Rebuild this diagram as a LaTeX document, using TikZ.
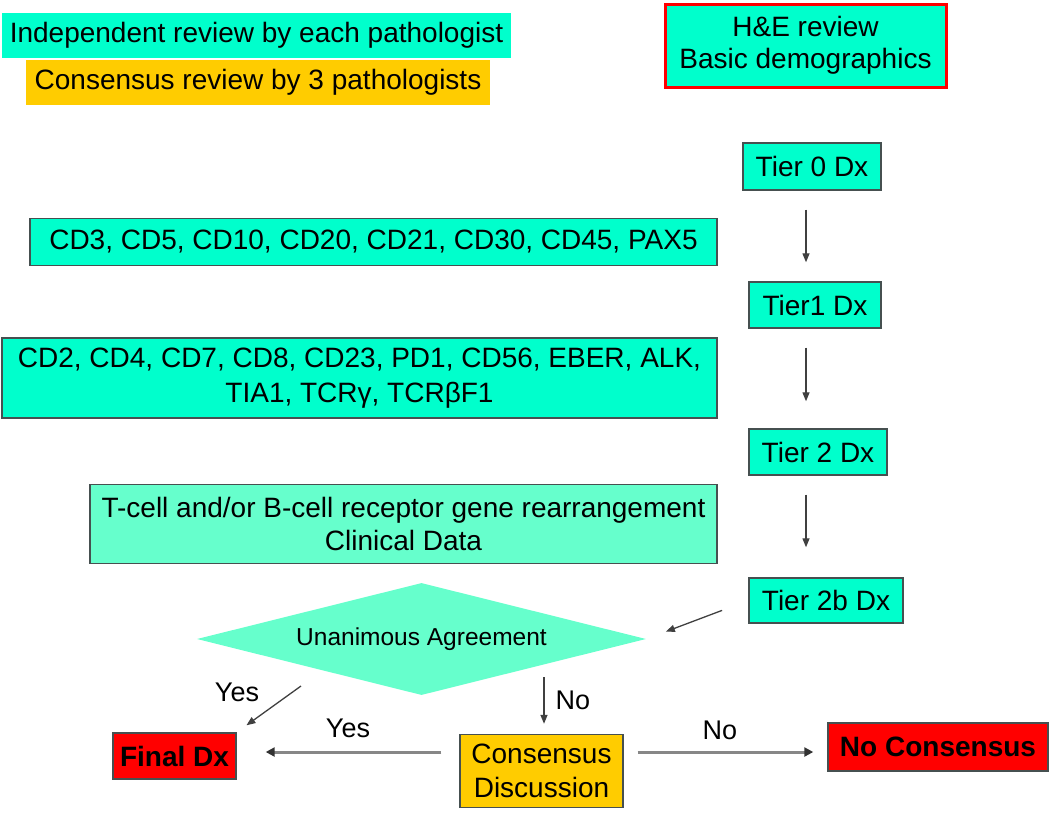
\documentclass[tikz,border=0pt]{standalone}
\usepackage{fontspec}
\setmainfont{Liberation Sans}
\usetikzlibrary{shapes.geometric,arrows.meta}
\definecolor{cyanbox}{RGB}{0,255,204}
\definecolor{aquabox}{RGB}{102,255,204}
\definecolor{orangebox}{RGB}{255,204,0}
\definecolor{redbox}{RGB}{255,0,0}
\definecolor{edgegray}{RGB}{70,80,80}
\definecolor{arrgray}{RGB}{135,135,135}
\definecolor{tipdark}{RGB}{50,50,50}
\tikzset{
  base/.style={inner sep=0pt, align=center, font=\fontsize{28}{34}\selectfont, text=black},
  cbox/.style={base, rectangle, fill=cyanbox, draw=edgegray, line width=1.4pt},
  legbox/.style={base, rectangle},
  thinarr/.style={draw=black!75, line width=1.3pt, -{Triangle[length=9pt,width=7pt]}},
  thickarr/.style={draw=arrgray, line width=3pt, -{Triangle[length=9pt,width=9pt,color=tipdark]}},
  lbl/.style={base, font=\fontsize{27}{32}\selectfont}
}
\begin{document}
\begin{tikzpicture}[x=1pt,y=-1pt]
\useasboundingbox (0,0) rectangle (1050,815);
% legend
\node[legbox, fill=cyanbox, minimum width=509pt, minimum height=45pt] (leg1) at (256.5,35.5) {Independent review by each pathologist};
\node[legbox, fill=orangebox, minimum width=464pt, minimum height=45pt] (leg2) at (258,82.5) {Consensus review by 3 pathologists};
% top box
\node[base, rectangle, fill=cyanbox, draw=redbox, line width=3pt, minimum width=281pt, minimum height=83pt, font=\fontsize{28}{32}\selectfont] (he) at (805.5,45.5) {\raisebox{-3pt}{H\&E review}\\\raisebox{-3pt}{Basic demographics}};
% tiers
\node[cbox, minimum width=138pt, minimum height=47pt] (t0) at (812,166.5) {Tier 0 Dx};
\node[cbox, minimum width=132pt, minimum height=46pt] (t1) at (815,305) {Tier1 Dx};
\node[cbox, minimum width=138pt, minimum height=46pt] (t2) at (818,452) {Tier 2 Dx};
\node[cbox, minimum width=154pt, minimum height=45pt] (t2b) at (826,600.5) {Tier 2b Dx};
% marker boxes
\node[cbox, minimum width=687pt, minimum height=47pt] (cd3) at (373.5,242) {CD3, CD5, CD10, CD20, CD21, CD30, CD45, PAX5};
\node[cbox, minimum width=715pt, minimum height=80pt, font=\fontsize{28}{35}\selectfont] (cd2) at (359.5,378) {CD2, CD4, CD7, CD8, CD23, PD1, CD56, EBER, ALK,\\TIA1, TCRγ, TCRβF1};
\node[cbox, fill=aquabox, minimum width=627pt, minimum height=79pt, font=\fontsize{28}{33}\selectfont] (gene) at (403.5,524) {T-cell and/or B-cell receptor gene rearrangement\\Clinical Data};
% decision
\node[base, diamond, aspect=4, fill=aquabox, minimum width=449pt, minimum height=112pt, font=\fontsize{24.5}{30}\selectfont] (dia) at (421.5,639) {Unanimous Agreement};
% outcomes
\node[cbox, fill=redbox, minimum width=123pt, minimum height=46pt, font=\fontsize{28}{34}\selectfont\bfseries] (fin) at (174.5,756) {Final Dx};
\node[cbox, fill=orangebox, minimum width=163pt, minimum height=73pt, font=\fontsize{28}{34}\selectfont] (cons) at (541.5,771) {Consensus\\Discussion};
\node[cbox, fill=redbox, minimum width=220pt, minimum height=48pt, font=\fontsize{28}{34}\selectfont\bfseries] (nocons) at (938,747) {No Consensus};
% helper coordinates
\coordinate (ax) at (806,0);
\coordinate (hy) at (0,752);
\coordinate (noS) at (544,677);
\coordinate (yesS) at (301,686);
% tier arrows
\draw[thinarr, shorten <=19pt, shorten >=19pt] (t0.south -| ax) -- (t1.north -| ax);
\draw[thinarr, shorten <=19pt, shorten >=27pt] (t1.south -| ax) -- (t2.north -| ax);
\draw[thinarr, shorten <=19pt, shorten >=30pt] (t2.south -| ax) -- (t2b.north -| ax);
\draw[thinarr, shorten <=28pt, shorten >=21pt] (t2b.west) -- (dia.east);
% decision arrows
\draw[thinarr, shorten >=12pt] (yesS) -- (fin.north east);
\draw[thinarr, shorten >=10pt] (noS) -- (cons.north -| noS);
\draw[thickarr, shorten <=18pt, shorten >=29pt] (cons.west |- hy) -- (fin.east |- hy);
\draw[thickarr, shorten <=14pt, shorten >=14pt] (cons.east |- hy) -- (nocons.west |- hy);
% labels
\node[lbl] (lyes1) at (237,692) {Yes};
\node[lbl] (lno1) at (573,700) {No};
\node[lbl] (lyes2) at (348,728) {Yes};
\node[lbl] (lno2) at (720,730) {No};
\end{tikzpicture}
\end{document}
